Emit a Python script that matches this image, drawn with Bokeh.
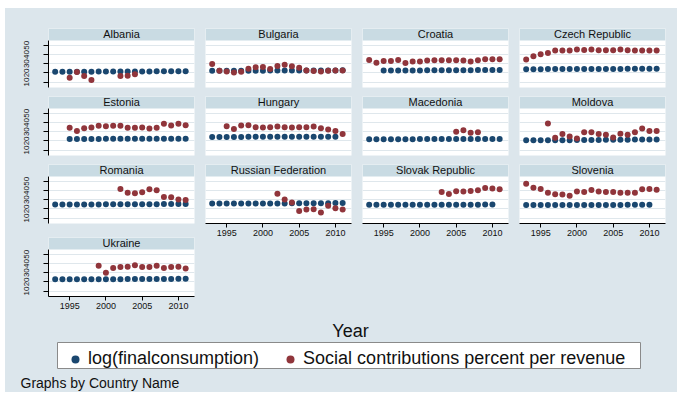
import numpy as np
from bokeh.plotting import figure
from bokeh.layouts import row, column
from bokeh.models import (Range1d, FixedTicker, BoxAnnotation, Label, Legend,
                          LegendItem, ColumnDataSource)
from bokeh.embed import file_html
from bokeh.resources import INLINE

N = None
years = list(range(1993, 2012))
x_ticks = [1995, 2000, 2005, 2010]
y_ticks = [10, 20, 30, 40, 50]

albania_cons = [21.2, 21.2, 21.3, 21.3, 21.3, 21.3, 21.4, 21.4, 21.4, 21.5, 21.5, 21.5, 21.6, 21.6, 21.7, 21.7, 21.8, 21.8, 21.8]
albania_soc = [N, N, 14.7, 20.9, 16.5, 12.2, N, N, N, 16.5, 16.9, 18.4, N, N, N, N, N, N, N]
bulgaria_cons = [22.3, 22.3, 22.3, 22.3, 22.3, 22.4, 22.4, 22.4, 22.5, 22.5, 22.5, 22.6, 22.6, 22.6, 22.7, 22.7, 22.7, 22.7, 22.8]
bulgaria_soc = [29.6, 22.4, 21.6, 20.5, 21.3, 24.5, 26.0, 26.4, 24.2, 27.5, 28.9, 27.1, 25.6, 22.7, 22.0, 21.6, 22.4, 22.7, 22.7]
croatia_cons = [N, N, 22.6, 22.6, 22.7, 22.7, 22.7, 22.7, 22.8, 22.8, 22.8, 22.8, 22.9, 22.9, 22.9, 23.0, 23.0, 23.0, 23.0]
croatia_soc = [34.0, 31.1, 32.9, 32.9, 34.0, 30.7, 32.2, 32.2, 33.3, 33.6, 33.6, 33.6, 33.6, 33.3, 32.2, 33.6, 34.7, 34.7, 34.7]
czech_cons = [24.0, 24.0, 24.0, 24.1, 24.1, 24.1, 24.1, 24.2, 24.2, 24.2, 24.2, 24.3, 24.3, 24.3, 24.4, 24.4, 24.4, 24.4, 24.4]
czech_soc = [34.4, 38.0, 40.2, 41.6, 44.2, 44.2, 44.2, 45.3, 44.9, 45.3, 44.5, 44.5, 44.5, 45.3, 44.5, 44.2, 44.2, 44.2, 44.2]
estonia_cons = [N, N, 22.1, 22.1, 22.1, 22.1, 22.1, 22.2, 22.2, 22.2, 22.2, 22.3, 22.3, 22.3, 22.4, 22.4, 22.3, 22.3, 22.4]
estonia_soc = [N, N, 34.1, 30.7, 33.7, 34.4, 36.3, 35.9, 36.3, 36.3, 34.1, 34.1, 34.4, 33.3, 34.1, 38.5, 36.7, 38.5, 37.0]
hungary_cons = [24.3, 24.3, 24.3, 24.3, 24.3, 24.4, 24.4, 24.4, 24.4, 24.4, 24.5, 24.5, 24.5, 24.5, 24.5, 24.5, 24.5, 24.6, N]
hungary_soc = [N, N, 35.9, 33.0, 36.7, 37.0, 34.8, 34.4, 34.8, 35.6, 34.8, 34.4, 34.8, 34.8, 35.6, 33.7, 32.2, 30.7, 27.4]
macedonia_cons = [21.8, 21.8, 21.8, 21.8, 21.8, 21.8, 21.8, 21.9, 21.9, 21.9, 21.9, 21.9, 22.0, 22.0, 22.0, 22.1, 22.1, 22.1, 22.1]
macedonia_soc = [N, N, N, N, N, N, N, N, N, N, N, N, 30.0, 31.5, 28.9, 29.3, N, N, N]
moldova_cons = [20.7, 20.7, 20.7, 20.8, 20.8, 20.8, 20.8, 20.9, 20.9, 21.0, 21.0, 21.1, 21.2, 21.3, 21.3, 21.4, 21.4, 21.5, 21.5]
moldova_soc = [N, N, N, 38.9, 23.3, 27.4, 24.8, 22.6, 29.3, 29.3, 27.4, 26.7, 23.7, 27.8, 26.7, 29.3, 33.3, 30.7, 30.7]
romania_cons = [24.7, 24.7, 24.7, 24.8, 24.8, 24.8, 24.8, 24.9, 24.9, 24.9, 25.0, 25.0, 25.0, 25.1, 25.1, 25.2, 25.2, 25.2, 25.2]
romania_soc = [N, N, N, N, N, N, N, N, N, 41.5, 37.6, 36.9, 38.0, 41.2, 40.1, 33.0, 32.7, 30.2, 29.5]
russia_cons = [25.8, 25.8, 25.8, 25.8, 25.8, 25.8, 25.8, 25.9, 25.9, 25.9, 25.9, 26.0, 26.0, 26.1, 26.2, 26.2, 26.2, 26.3, 26.3]
russia_soc = [N, N, N, N, N, N, N, N, N, 36.5, 30.2, 27.0, 17.8, 19.2, 19.6, 16.0, 23.5, 20.6, 19.2]
slovak_cons = [24.4, 24.4, 24.4, 24.4, 24.4, 24.4, 24.4, 24.5, 24.5, 24.5, 24.5, 24.5, 24.5, 24.6, 24.6, 24.6, 24.7, 24.7, N]
slovak_soc = [N, N, N, N, N, N, N, N, N, N, 38.3, 36.2, 39.0, 38.7, 39.4, 40.1, 42.6, 42.2, 41.2]
slovenia_cons = [24.1, 24.1, 24.1, 24.1, 24.1, 24.2, 24.2, 24.2, 24.2, 24.3, 24.3, 24.3, 24.3, 24.3, 24.4, 24.4, 24.4, 24.4, N]
slovenia_soc = [47.2, 42.9, 41.5, 37.6, 35.8, 35.5, 34.1, 38.7, 38.3, 40.4, 38.7, 38.3, 38.3, 37.6, 37.6, 37.6, 41.2, 41.5, 40.8]
ukraine_cons = [22.8, 22.8, 22.8, 22.8, 22.8, 22.8, 22.8, 22.9, 22.9, 22.9, 23.0, 23.0, 23.1, 23.1, 23.2, 23.2, 23.2, 23.3, 23.3]
ukraine_soc = [N, N, N, N, N, N, 37.5, 30.0, 35.0, 36.0, 36.5, 38.0, 36.0, 36.0, 37.5, 35.0, 36.0, 36.5, 34.5]

countries = ["Albania", "Bulgaria", "Croatia", "Czech Republic",
             "Estonia", "Hungary", "Macedonia", "Moldova",
             "Romania", "Russian Federation", "Slovak Republic", "Slovenia",
             "Ukraine"]
cons_series = [albania_cons, bulgaria_cons, croatia_cons, czech_cons,
               estonia_cons, hungary_cons, macedonia_cons, moldova_cons,
               romania_cons, russia_cons, slovak_cons, slovenia_cons,
               ukraine_cons]
soc_series = [albania_soc, bulgaria_soc, croatia_soc, czech_soc,
              estonia_soc, hungary_soc, macedonia_soc, moldova_soc,
              romania_soc, russia_soc, slovak_soc, slovenia_soc,
              ukraine_soc]
series_labels = ["log(finalconsumption)", "Social contributions percent per revenue"]

BG = "#dce6ec"
STRIP = "#c9dbe3"
GRID = "#dfe7ec"
NAVY = "#1a476f"
MAROON = "#90353b"
FONT = "Liberation Sans"
BG_STYLE = {"background-color": BG}

X0, X1 = 1992.08, 2012.22
Y0, STRIP_Y, Y1 = 4.15, 55.1, 68.1
FRAME_W, FRAME_H = 146, 59


def make_panel(idx, r, c, ncol_rows):
    last = (r == ncol_rows - 1)
    left = 43 if c == 0 else 5
    right = 12 if c == 3 else 6
    top = 20 if r == 0 else 5
    if last:
        if c == 0:
            top, bottom = 10, 18
        else:
            bottom = 91
    else:
        bottom = 4
    p = figure(frame_width=FRAME_W, frame_height=FRAME_H,
               x_range=Range1d(X0, X1), y_range=Range1d(Y0, Y1),
               min_border_left=left, min_border_right=right,
               min_border_top=top, min_border_bottom=bottom,
               toolbar_location=None, output_backend="svg",
               title_location=None,
               x_axis_location="below" if last else None,
               y_axis_location="left" if c == 0 else None,
               background_fill_color="white", border_fill_color=BG,
               outline_line_color=None, styles=BG_STYLE)
    p.xgrid.visible = False
    p.ygrid.ticker = FixedTicker(ticks=y_ticks)
    p.ygrid.grid_line_color = GRID
    p.ygrid.grid_line_width = 1

    src = ColumnDataSource(dict(
        year=years,
        cons=np.array(cons_series[idx], dtype=float),
        soc=np.array(soc_series[idx], dtype=float)))
    p.scatter("year", "cons", source=src, size=6, fill_color=NAVY, line_color=None)
    p.scatter("year", "soc", source=src, size=6, fill_color=MAROON, line_color=None)

    p.add_layout(BoxAnnotation(bottom=STRIP_Y, fill_color=STRIP, fill_alpha=1.0,
                               line_color=None))
    p.add_layout(Label(x=(X0 + X1) / 2, y=(STRIP_Y + Y1) / 2, text=countries[idx],
                       text_align="center", text_baseline="middle",
                       text_font=FONT, text_font_size="11px", text_color="#111111"))

    if c == 0:
        ax = p.yaxis[0]
        ax.ticker = FixedTicker(ticks=y_ticks)
        ax.bounds = (Y0, STRIP_Y)
        ax.major_label_orientation = "vertical"
        ax.major_label_text_font = FONT
        ax.major_label_text_font_size = "8px"
        ax.major_label_text_color = "#111111"
        ax.major_label_standoff = 14
        ax.major_tick_out = 5
        ax.major_tick_in = 0
        ax.minor_tick_out = 0
        ax.minor_tick_in = 0
        ax.axis_line_color = "black"
        ax.major_tick_line_color = "black"
    if last:
        ax = p.xaxis[0]
        ax.ticker = FixedTicker(ticks=x_ticks)
        ax.major_label_text_font = FONT
        ax.major_label_text_font_size = "9px"
        ax.major_label_text_color = "#111111"
        ax.major_label_standoff = 2
        ax.major_tick_out = 4
        ax.major_tick_in = 0
        ax.minor_tick_out = 0
        ax.minor_tick_in = 0
        ax.axis_line_color = "black"
        ax.major_tick_line_color = "black"
    return p


cols = []
for c in range(4):
    idxs = [i for i in range(len(countries)) if i % 4 == c]
    figs = [make_panel(i, k, c, len(idxs)) for k, i in enumerate(idxs)]
    cols.append(column(*figs, spacing=0, styles=BG_STYLE))

# bottom area: axis title, legend, note
bw, bh = 672, 78
pb = figure(frame_width=bw, frame_height=bh, x_range=Range1d(0, bw), y_range=Range1d(0, bh),
            min_border=0, toolbar_location=None, output_backend="svg",
            title_location=None, x_axis_location=None, y_axis_location=None,
            background_fill_color=BG, border_fill_color=BG, outline_line_color=None,
            styles=BG_STYLE)
pb.xgrid.visible = False
pb.ygrid.visible = False
pb.add_layout(Label(x=345, y=62, text="Year", text_align="center", text_baseline="middle",
                    text_font=FONT, text_font_size="18px", text_color="#111111"))
pb.quad(left=[52], right=[635], bottom=[24], top=[50], fill_color="white",
        line_color="#8a8a8a", line_width=1)
nan = float("nan")
r1 = pb.scatter(x=[nan], y=[nan], size=8, fill_color=NAVY, line_color=None)
r2 = pb.scatter(x=[nan], y=[nan], size=8, fill_color=MAROON, line_color=None)
leg = Legend(items=[LegendItem(label=series_labels[0], renderers=[r1]),
                    LegendItem(label=series_labels[1], renderers=[r2])],
             orientation="horizontal", location=(60, 23), margin=0, padding=8,
             spacing=21, label_standoff=3, glyph_width=20, glyph_height=20,
             label_text_font=FONT, label_text_font_size="18px",
             label_text_color="#111111",
             background_fill_alpha=0, border_line_color=None)
pb.add_layout(leg)
pb.add_layout(Label(x=15, y=10, text="Graphs by Country Name", text_align="left",
                    text_baseline="middle", text_font=FONT, text_font_size="14px",
                    text_color="#111111"))

layout = column(row(*cols, spacing=0, styles=BG_STYLE), pb, spacing=0,
                margin=(8, 2, 5, 5), styles=BG_STYLE)

open("out.html", "w").write(file_html(layout, INLINE))
